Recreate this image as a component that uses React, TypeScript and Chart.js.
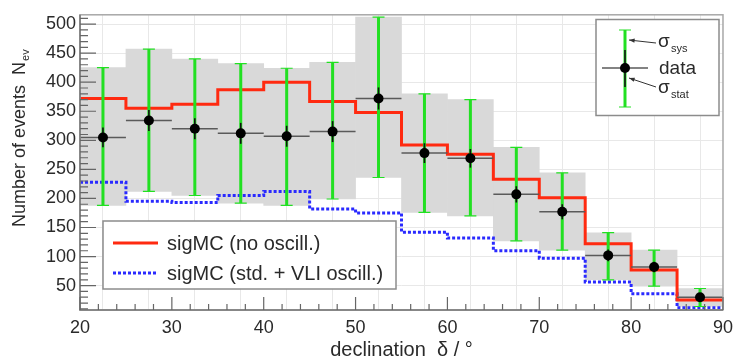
import React, { useEffect, useRef } from "react";
import { Chart, registerables } from "chart.js";

Chart.register(...registerables);

// ---- data ----
const binEdges = [20, 25, 30, 35, 40, 45, 50, 55, 60, 65, 70, 75, 80, 85, 90];
const binCenters = [22.5, 27.5, 32.5, 37.5, 42.5, 47.5, 52.5, 57.5, 62.5, 67.5, 72.5, 77.5, 82.5, 87.5];
const dataValues = [305, 334, 320, 312, 307, 315, 372, 278, 269, 207, 177, 102, 82, 30];
const statErr = [17, 18, 18, 18, 18, 18, 19, 17, 16, 14, 13, 10, 9, 5];
const sysLow = [188, 212, 205, 192, 188, 199, 236, 176, 170, 127, 111, 60, 49, 14];
const sysHigh = [425, 457, 440, 432, 424, 434, 512, 380, 370, 288, 244, 141, 111, 45];
const mcNoOsc = [372, 355, 362, 387, 400, 367, 348, 292, 276, 233, 201, 122, 77, 25];
const mcVliOsc = [228, 195, 193, 205, 212, 182, 175, 142, 132, 110, 97, 56, 36, 12];
const yTicks = [50, 100, 150, 200, 250, 300, 350, 400, 450, 500];
const xGridTicks = [20, 25, 30, 35, 40, 45, 50, 55, 60, 65, 70, 75, 80, 85, 90];

const FONT = "'Liberation Sans', Arial, Helvetica, sans-serif";
const RED = "#ff2a10";
const BLUE = "#2a2aff";
const GREEN = "#22e022";
const BOX = "#d9d9d9";

const decorPlugin = {
  id: "decor",
  beforeDatasetDraw(chart: any, args: any) {
    if (args.index !== 3) return;
    const ctx = chart.ctx;
    const xs = chart.scales.x;
    const ys = chart.scales.y;
    ctx.save();
    for (let i = 0; i < dataValues.length; i++) {
      const cx = xs.getPixelForValue(binCenters[i]);
      const cy = ys.getPixelForValue(dataValues[i]);
      // x error bar
      ctx.strokeStyle = "#5a5a5a";
      ctx.lineWidth = 1.5;
      ctx.beginPath();
      ctx.moveTo(xs.getPixelForValue(binEdges[i]), cy);
      ctx.lineTo(xs.getPixelForValue(binEdges[i + 1]), cy);
      ctx.stroke();
      // systematic (green)
      const yl = ys.getPixelForValue(sysLow[i]);
      const yh = ys.getPixelForValue(sysHigh[i]);
      ctx.strokeStyle = GREEN;
      ctx.lineWidth = 3;
      ctx.beginPath();
      ctx.moveTo(cx, yl);
      ctx.lineTo(cx, yh);
      ctx.stroke();
      ctx.lineWidth = 1.2;
      ctx.beginPath();
      ctx.moveTo(cx - 6, yl);
      ctx.lineTo(cx + 6, yl);
      ctx.moveTo(cx - 6, yh);
      ctx.lineTo(cx + 6, yh);
      ctx.stroke();
      // statistical (dark)
      ctx.strokeStyle = "#111";
      ctx.lineWidth = 1.6;
      ctx.beginPath();
      ctx.moveTo(cx, ys.getPixelForValue(dataValues[i] - statErr[i]));
      ctx.lineTo(cx, ys.getPixelForValue(dataValues[i] + statErr[i]));
      ctx.stroke();
    }
    ctx.restore();
  },
  afterDraw(chart: any) {
    const ctx = chart.ctx;
    const xs = chart.scales.x;
    const ys = chart.scales.y;
    const a = chart.chartArea;
    ctx.save();
    // frame
    ctx.strokeStyle = "#a8a8a8";
    ctx.lineWidth = 1.5;
    ctx.strokeRect(a.left, a.top, a.right - a.left, a.bottom - a.top);
    ctx.strokeStyle = "#777";
    ctx.lineWidth = 1.5;
    ctx.beginPath();
    ctx.moveTo(a.left, a.top);
    ctx.lineTo(a.left, a.bottom);
    ctx.lineTo(a.right, a.bottom);
    ctx.stroke();
    // y tick marks
    ctx.strokeStyle = "#666";
    ctx.lineWidth = 1.2;
    ctx.beginPath();
    for (let v = 10; v <= 510; v += 10) {
      const p = ys.getPixelForValue(v);
      const len = v % 50 === 0 ? 16 : 8;
      ctx.moveTo(a.left, p);
      ctx.lineTo(a.left + len, p);
    }
    // x tick marks
    for (let v = 20; v <= 90; v += 2) {
      const p = xs.getPixelForValue(v);
      const len = v % 10 === 0 ? 13 : 6;
      ctx.moveTo(p, a.bottom);
      ctx.lineTo(p, a.bottom - len);
    }
    ctx.stroke();

    // axis titles
    ctx.fillStyle = "#2a2a2a";
    ctx.font = `20px ${FONT}`;
    ctx.textAlign = "center";
    ctx.textBaseline = "alphabetic";
    ctx.fillText("declination  \u03b4 / \u00b0", (a.left + a.right) / 2, 356);

    ctx.save();
    ctx.translate(25, 227);
    ctx.rotate(-Math.PI / 2);
    ctx.textAlign = "left";
    ctx.font = `18px ${FONT}`;
    const t1 = "Number of events  N";
    ctx.fillText(t1, 0, 0);
    const w1 = ctx.measureText(t1).width;
    ctx.font = `11px ${FONT}`;
    ctx.fillText("ev", w1 + 1, 4);
    ctx.restore();

    // bottom-left legend
    ctx.fillStyle = "#fff";
    ctx.fillRect(103, 221, 293, 68);
    ctx.strokeStyle = "#8c8c8c";
    ctx.lineWidth = 1.5;
    ctx.strokeRect(103, 221, 293, 68);
    ctx.lineWidth = 3;
    ctx.strokeStyle = RED;
    ctx.beginPath();
    ctx.moveTo(113, 243);
    ctx.lineTo(158, 243);
    ctx.stroke();
    ctx.strokeStyle = BLUE;
    ctx.setLineDash([3, 2]);
    ctx.beginPath();
    ctx.moveTo(113, 273);
    ctx.lineTo(158, 273);
    ctx.stroke();
    ctx.setLineDash([]);
    ctx.fillStyle = "#2a2a2a";
    ctx.font = `20px ${FONT}`;
    ctx.textAlign = "left";
    ctx.textBaseline = "middle";
    ctx.fillText("sigMC (no oscill.)", 167, 244);
    ctx.fillText("sigMC (std. + VLI oscill.)", 167, 274);

    // top-right legend
    ctx.fillStyle = "#fff";
    ctx.fillRect(596, 19.5, 123, 96);
    ctx.strokeStyle = "#8c8c8c";
    ctx.lineWidth = 1.5;
    ctx.strokeRect(596, 19.5, 123, 96);
    const lx = 625;
    ctx.strokeStyle = "#5a5a5a";
    ctx.lineWidth = 1.5;
    ctx.beginPath();
    ctx.moveTo(602, 68);
    ctx.lineTo(648, 68);
    ctx.stroke();
    ctx.strokeStyle = GREEN;
    ctx.lineWidth = 3;
    ctx.beginPath();
    ctx.moveTo(lx, 30);
    ctx.lineTo(lx, 107);
    ctx.stroke();
    ctx.lineWidth = 1.2;
    ctx.beginPath();
    ctx.moveTo(lx - 6, 30);
    ctx.lineTo(lx + 6, 30);
    ctx.moveTo(lx - 6, 107);
    ctx.lineTo(lx + 6, 107);
    ctx.stroke();
    ctx.strokeStyle = "#111";
    ctx.lineWidth = 1.6;
    ctx.beginPath();
    ctx.moveTo(lx, 50);
    ctx.lineTo(lx, 87);
    ctx.stroke();
    ctx.fillStyle = "#000";
    ctx.beginPath();
    ctx.arc(lx, 68, 5, 0, Math.PI * 2);
    ctx.fill();
    // arrows
    const arrow = (x1: number, y1: number, x2: number, y2: number) => {
      ctx.strokeStyle = "#333";
      ctx.lineWidth = 1;
      ctx.beginPath();
      ctx.moveTo(x1, y1);
      ctx.lineTo(x2, y2);
      ctx.stroke();
      const ang = Math.atan2(y2 - y1, x2 - x1);
      ctx.fillStyle = "#333";
      ctx.beginPath();
      ctx.moveTo(x2, y2);
      ctx.lineTo(x2 - 6 * Math.cos(ang - 0.35), y2 - 6 * Math.sin(ang - 0.35));
      ctx.lineTo(x2 - 6 * Math.cos(ang + 0.35), y2 - 6 * Math.sin(ang + 0.35));
      ctx.closePath();
      ctx.fill();
    };
    arrow(656, 43, 629, 40);
    arrow(656, 87, 629, 78);
    ctx.fillStyle = "#2a2a2a";
    ctx.textBaseline = "alphabetic";
    ctx.textAlign = "left";
    ctx.font = `19px ${FONT}`;
    ctx.fillText("\u03c3", 658, 47);
    ctx.fillText("data", 659, 74);
    ctx.fillText("\u03c3", 658, 93);
    ctx.font = `11px ${FONT}`;
    ctx.fillText("sys", 671, 52);
    ctx.fillText("stat", 671, 98);
    ctx.restore();
  },
};

export default function App() {
  const ref = useRef<HTMLCanvasElement | null>(null);
  useEffect(() => {
    if (!ref.current) return;
    const n = mcNoOsc.length;
    const chart = new Chart(ref.current, {
      type: "bar",
      data: {
        datasets: [
          {
            type: "bar",
            data: binCenters.map((x, i) => ({ x, y: [sysLow[i], sysHigh[i]] })) as any,
            backgroundColor: BOX,
            borderWidth: 0,
            barPercentage: 1,
            categoryPercentage: 1,
            grouped: false,
            order: 5,
          } as any,
          {
            type: "line",
            data: binEdges.map((x, i) => ({ x, y: mcVliOsc[Math.min(i, n - 1)] })),
            borderColor: BLUE,
            borderWidth: 3,
            borderDash: [3, 2],
            stepped: "before",
            pointRadius: 0,
            fill: false,
            order: 4,
          } as any,
          {
            type: "line",
            data: binEdges.map((x, i) => ({ x, y: mcNoOsc[Math.min(i, n - 1)] })),
            borderColor: RED,
            borderWidth: 3,
            stepped: "before",
            pointRadius: 0,
            fill: false,
            order: 3,
          } as any,
          {
            type: "scatter",
            data: binCenters.map((x, i) => ({ x, y: dataValues[i] })),
            backgroundColor: "#000",
            borderWidth: 0,
            pointRadius: 5,
            showLine: false,
            order: 0,
          } as any,
        ],
      },
      options: {
        responsive: false,
        devicePixelRatio: 1,
        animation: false,
        layout: { padding: { top: 13, right: 13, left: 0, bottom: 0 } },
        plugins: { legend: { display: false }, tooltip: { enabled: false } },
        scales: {
          x: {
            type: "linear",
            min: 20,
            max: 90,
            offset: false,
            afterBuildTicks: (s: any) => {
              s.ticks = xGridTicks.map((v) => ({ value: v }));
            },
            afterFit: (s: any) => {
              s.height = 49;
            },
            grid: { color: "#e8e8e8", lineWidth: 1, drawTicks: false },
            border: { display: false },
            ticks: {
              autoSkip: false,
              maxRotation: 0,
              padding: 7,
              color: "#2a2a2a",
              font: { family: FONT, size: 18 },
              callback: (v: any) => (v % 10 === 0 ? String(v) : ""),
            },
          },
          y: {
            type: "linear",
            min: 8,
            max: 516,
            afterBuildTicks: (s: any) => {
              s.ticks = yTicks.map((v) => ({ value: v }));
            },
            afterFit: (s: any) => {
              s.width = 80;
            },
            grid: { color: "#e8e8e8", lineWidth: 1, drawTicks: false },
            border: { display: false },
            ticks: {
              padding: 4,
              color: "#2a2a2a",
              font: { family: FONT, size: 18 },
            },
          },
        },
      } as any,
      plugins: [decorPlugin],
    });
    return () => chart.destroy();
  }, []);
  return (
    <canvas
      ref={ref}
      width={740}
      height={359}
      style={{ position: "fixed", left: 0, top: 0, width: 740, height: 359, background: "#fff" }}
    />
  );
}
